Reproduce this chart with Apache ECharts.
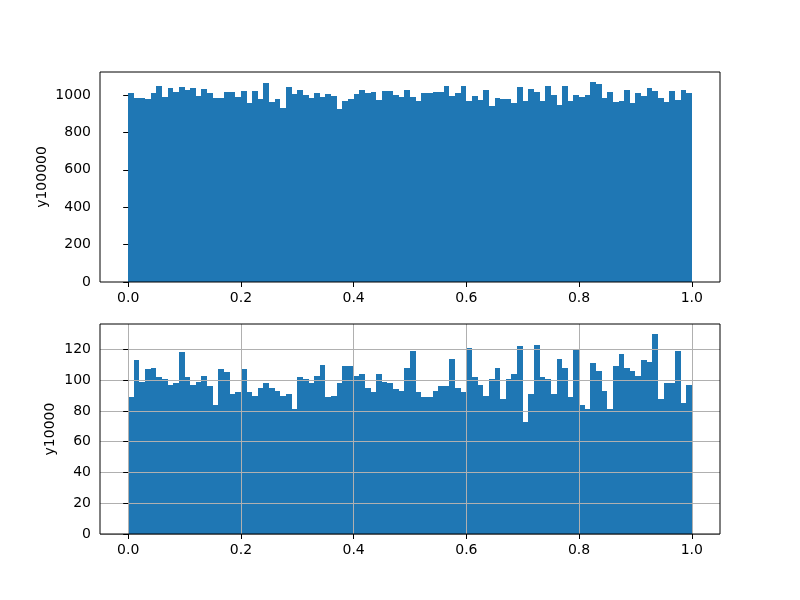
<!DOCTYPE html>
<html>
<head>
<meta charset="utf-8">
<script src="https://cdn.jsdelivr.net/npm/echarts@6/dist/echarts.min.js"></script>
<style>html,body{margin:0;padding:0;background:#fff}#c{width:800px;height:600px}</style>
</head>
<body>
<div id="c"></div>
<script>
const binCount = 100;
const xTicks = [0, 0.2, 0.4, 0.6, 0.8, 1.0];
const topYTicks = [0, 200, 400, 600, 800, 1000];
const bottomYTicks = [0, 20, 40, 60, 80, 100, 120];
const topName = 'y100000';
const bottomName = 'y10000';
const topCounts = [1010,984,984,979,1010,1048,989,1037,1016,1043,1027,1037,995,1032,1011,984,984,1016,1016,989,
  1021,957,1021,979,1064,963,979,930,1043,1005,1027,1000,984,1011,989,1005,995,925,968,979,
  1005,1027,1011,1016,973,1021,1021,1000,989,1027,989,968,1011,1011,1016,1016,1048,995,1011,1048,
  968,995,973,1027,941,984,979,979,957,1043,968,1032,1016,968,1048,1000,947,1048,968,1000,
  989,1000,1070,1059,984,1016,963,968,1027,957,1011,995,1037,1021,984,963,1021,973,1027,1011];
const bottomCounts = [89,113,99,107,108,102,101,97,98,118,102,97,99,103,96,84,107,105,91,92,
  107,92,90,95,98,95,93,90,91,81,102,101,98,103,110,89,90,98,109,109,
  103,104,95,92,104,99,98,94,93,108,119,92,89,89,93,96,96,114,95,92,
  121,102,97,90,101,108,88,101,104,122,73,91,123,102,101,91,114,108,89,120,
  84,81,111,106,93,81,109,117,108,106,103,113,112,130,88,98,98,119,85,97];

function toBins(counts) {
  return counts.map((c, i) => [i / binCount, (i + 1) / binCount, c]);
}
function renderItem(params, api) {
  const p0 = api.coord([api.value(0), api.value(2)]);
  const p1 = api.coord([api.value(1), 0]);
  const l = Math.round(p0[0]), r = Math.round(p1[0]);
  const t = Math.round(p0[1]), b = Math.round(p1[1]);
  return { type: 'rect', shape: { x: l, y: t, width: r - l, height: b - t }, style: { fill: '#1f77b4' } };
}
const font = { fontFamily: 'DejaVu Sans', fontSize: 14, color: '#000' };
function xAxis(gridIndex, grid) {
  return {
    type: 'value', gridIndex, min: -0.05, max: 1.05, z: 3,
    axisLine: { show: false },
    axisTick: { show: true, inside: false, length: 5, customValues: xTicks, lineStyle: { color: '#000', width: 1 } },
    axisLabel: Object.assign({ show: true, margin: 9, customValues: xTicks, formatter: v => v.toFixed(1) }, font),
    splitLine: { show: grid, lineStyle: { color: '#b0b0b0', width: 1 } }
  };
}
function yAxis(gridIndex, max, ticks, name, gap, grid) {
  return {
    type: 'value', gridIndex, min: 0, max, z: 3,
    name, nameLocation: 'middle', nameGap: gap, nameRotate: 90, nameMoveOverlap: false,
    nameTextStyle: Object.assign({}, font),
    axisLine: { show: false },
    axisTick: { show: true, inside: false, length: 5, customValues: ticks, lineStyle: { color: '#000', width: 1 } },
    axisLabel: Object.assign({ show: true, margin: 9, customValues: ticks, formatter: v => String(v) }, font),
    splitLine: { show: grid, lineStyle: { color: '#b0b0b0', width: 1 } }
  };
}
const chart = echarts.init(document.getElementById('c'), null, { renderer: 'canvas' });
chart.setOption({
  animation: false,
  backgroundColor: '#fff',
  grid: [
    { left: 100, top: 72, width: 620, height: 210, show: true, z: 5, backgroundColor: 'transparent', borderColor: '#000', borderWidth: 1 },
    { left: 100, top: 324, width: 620, height: 210, show: true, z: 5, backgroundColor: 'transparent', borderColor: '#000', borderWidth: 1 }
  ],
  xAxis: [xAxis(0, false), xAxis(1, true)],
  yAxis: [
    yAxis(0, 1123.5, topYTicks, topName, 51, false),
    yAxis(1, 136.5, bottomYTicks, bottomName, 43, true)
  ],
  series: [
    { type: 'custom', xAxisIndex: 0, yAxisIndex: 0, data: toBins(topCounts), renderItem, encode: { x: [0, 1], y: 2 } },
    { type: 'custom', xAxisIndex: 1, yAxisIndex: 1, data: toBins(bottomCounts), renderItem, encode: { x: [0, 1], y: 2 } }
  ]
});
</script>
</body>
</html>
